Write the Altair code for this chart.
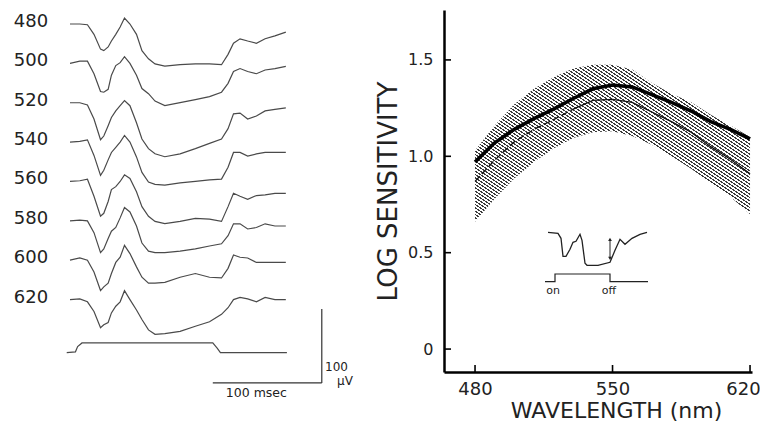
import math
import altair as alt
import pandas as pd

# ---------------- right panel: spectral sensitivity ----------------
wavelengths = [480, 490, 500, 510, 520, 530, 540, 550, 560, 570, 580, 590, 600, 610, 620]
band_upper = [1.03, 1.16, 1.27, 1.35, 1.41, 1.455, 1.475, 1.475, 1.45, 1.38, 1.325, 1.28, 1.215, 1.16, 1.10]
band_lower = [0.66, 0.78, 0.885, 0.97, 1.04, 1.095, 1.125, 1.13, 1.105, 1.06, 1.00, 0.935, 0.86, 0.79, 0.70]
sens_thick = [0.97, 1.07, 1.14, 1.195, 1.245, 1.30, 1.35, 1.37, 1.36, 1.32, 1.28, 1.235, 1.18, 1.14, 1.09]
sens_thin = [0.87, 0.98, 1.075, 1.14, 1.19, 1.245, 1.29, 1.295, 1.28, 1.23, 1.18, 1.125, 1.05, 0.985, 0.91]
thin_dash_end = 530
y_tick_values = [0, 0.5, 1.0, 1.5]
x_tick_values = [480, 550, 620]

# ---------------- left panel: ERG traces ----------------
trace_labels = ["480", "500", "520", "540", "560", "580", "600", "620"]
trace_time_ms = [0, 9, 16, 22, 28, 31, 35, 38, 42, 46, 50, 55, 61, 66, 72, 78, 87, 101, 115, 128,
                 139, 145, 150, 156, 163, 171, 179, 188, 198]
trace_480 = [0, 0, -1, -14, -34, -36, -31, -23, -14, -4, 8, 0, -14, -36, -47, -54, -57, -55, -54, -54, -55, -41, -26, -20, -23, -26, -20, -16, -11]
trace_500 = [0, 3, 3, -14, -38, -39, -35, -16, -3, 1, 9, 0, -16, -34, -41, -51, -57, -53, -49, -45, -39, -27, -11, -7, -11, -14, -9, -7, -4]
trace_520 = [0, 0, -3, -22, -50, -45, -31, -20, -11, -4, 3, -4, -27, -49, -62, -69, -73, -69, -62, -55, -49, -35, -15, -14, -22, -18, -11, -9, -7]
trace_540 = [0, 1, 3, -18, -45, -38, -24, -14, -7, 0, 9, 0, -20, -41, -54, -57, -58, -55, -53, -51, -50, -34, -14, -14, -19, -16, -14, -14, -14]
trace_560 = [0, 1, 3, -20, -47, -43, -27, -11, -7, 0, 9, 4, -14, -34, -47, -54, -57, -54, -50, -51, -54, -34, -16, -20, -24, -19, -18, -16, -16]
trace_580 = [0, 1, 0, -16, -43, -38, -24, -14, -9, 4, 18, 12, -7, -30, -41, -43, -43, -41, -38, -34, -31, -20, -4, -4, -11, -9, -4, -7, -7]
trace_600 = [0, 3, 0, -16, -41, -36, -31, -18, -3, 4, 20, 9, -9, -23, -31, -31, -30, -23, -18, -23, -24, -11, 7, 4, 3, -3, -3, -3, -3]
trace_620 = [0, 1, -3, -16, -38, -34, -31, -18, -9, -3, 12, 0, -14, -27, -41, -47, -46, -43, -36, -30, -20, -11, 0, 3, 1, -3, 3, 0, 0]
traces = [trace_480, trace_500, trace_520, trace_540, trace_560, trace_580, trace_600, trace_620]
trace_spacing_uv = 53.2

stim_time_ms = [-3, 5, 7, 11, 131, 135, 138, 199]
stim_uv = [0, 1, 8, 13, 13, 6, 0, 0]
stim_offset_uv = -444

scalebar_ms = [131, 231]
scalebar_uv = [-485, -385]

# ---------------- inset schematic ----------------
inset_t = [2, 12, 15, 17, 20, 24, 27, 30, 34, 36, 39, 41, 52, 64, 69, 74, 79, 86, 94, 101]
inset_a = [1, 0, -5, -23, -23, -16, -9, -8, -1, -7, -30, -32, -32, -29, -17, -6, -11, -5, -1, 1]
inset_stim_t = [-1, 9, 9, 64, 64, 102]
inset_stim_a = [-48.4, -48.4, -40.7, -40.7, -48.4, -48.4]
inset_arrow_t = 64
inset_arrow_a = [-6, -25]

FONT = "DejaVu Sans"
INK = "#222222"
W, H = 308, 362
X_DOM = [464.2, 621]
Y_DOM = [-0.119, 1.759]

# ---- right panel layers ----
df_sens = pd.DataFrame({"wl": wavelengths, "lower": band_lower, "upper": band_upper,
                        "thick": sens_thick, "thin": sens_thin})
xs = alt.Scale(domain=X_DOM, nice=False, zero=False)
ys = alt.Scale(domain=Y_DOM, nice=False, zero=False)

x_enc = alt.X("wl:Q", scale=xs, axis=alt.Axis(
    values=x_tick_values, title="WAVELENGTH (nm)", ticks=False, tickSize=0, grid=False,
    domainWidth=2.5, domainColor="black", labelFontSize=18, labelPadding=8, labelFlush=False,
    labelOffset={"condition": {"test": "datum.value == 620", "value": -7}, "value": 0},
    titleFontSize=22, titleX=172, titleY=45, titleBaseline="alphabetic"))
y_enc_axis = alt.Axis(
    values=y_tick_values, title="LOG SENSITIVITY", ticks=False, tickSize=0, grid=False,
    domainWidth=2.5, domainColor="black", labelFontSize=16, labelPadding=11,
    labelExpr="datum.value == 0 ? '0' : format(datum.value, '.1f')",
    titleFontSize=26, titlePadding=6)

# diagonal hatching: hard-stop gradient aligned to the pixel grid (lines of slope 2/3)
bw = (max(wavelengths) - min(wavelengths)) / (X_DOM[1] - X_DOM[0]) * W
bh = (max(band_upper) - min(band_lower)) / (Y_DOM[1] - Y_DOM[0]) * H
ha, hb = 2.0, 3.0
span = ha * bw + hb * bh
k = span / (ha ** 2 * bw ** 2 + hb ** 2 * bh ** 2)
period, dark_len = 10.0, 4.0
dark = "#3a3a3a"
stops = []
for i in range(int(math.ceil(span / period))):
    a = min(1.0, i * period / span)
    b = min(1.0, (i * period + dark_len) / span)
    c = min(1.0, (i + 1) * period / span)
    stops += [alt.GradientStop(color=dark, offset=round(a, 6)), alt.GradientStop(color=dark, offset=round(b, 6)),
              alt.GradientStop(color="white", offset=round(b, 6)), alt.GradientStop(color="white", offset=round(c, 6))]
hatch = alt.LinearGradient(gradient="linear", stops=stops, x1=0, y1=1, x2=ha * bw * k, y2=1 - hb * bh * k)

band = alt.Chart(df_sens).mark_area(fill=hatch, opacity=1).encode(
    x=x_enc, y=alt.Y("lower:Q", scale=ys, axis=y_enc_axis), y2="upper:Q")
thick = alt.Chart(df_sens).mark_line(color="black", strokeWidth=3.6).encode(
    x="wl:Q", y="thick:Q")
thin_solid = alt.Chart(df_sens[df_sens.wl >= thin_dash_end]).mark_line(color="#111", strokeWidth=1.3).encode(
    x="wl:Q", y="thin:Q")
thin_dash = alt.Chart(df_sens[df_sens.wl <= thin_dash_end]).mark_line(
    color="#111", strokeWidth=1.3, strokeDash=[7, 3]).encode(x="wl:Q", y="thin:Q")
yticks = alt.Chart(pd.DataFrame({"v": y_tick_values})).mark_rule(color="black", strokeWidth=1.6).encode(
    y="v:Q", x=alt.value(0), x2=alt.value(7))
xticks = alt.Chart(pd.DataFrame({"wl": x_tick_values})).mark_rule(color="black", strokeWidth=1.6).encode(
    x="wl:Q", y=alt.value(H), y2=alt.value(H - 7))
right = alt.layer(band, thick, thin_solid, thin_dash, yticks, xticks)

# ---- left panel layers ----
rows = []
for kk, (lab, vals) in enumerate(zip(trace_labels, traces)):
    for t, v in zip(trace_time_ms, vals):
        rows.append({"trace": lab, "t": t, "uv": v - kk * trace_spacing_uv})
df_tr = pd.DataFrame(rows)
df_lab = pd.DataFrame({"label": trace_labels, "t": [-20] * len(trace_labels),
                       "uv": [2.7 - kk * trace_spacing_uv for kk in range(len(trace_labels))]})
df_stim = pd.DataFrame({"t": stim_time_ms, "uv": [v + stim_offset_uv for v in stim_uv]})
df_bar = pd.DataFrame({"t": [scalebar_ms[0], scalebar_ms[1]], "t2": [scalebar_ms[1], scalebar_ms[1]],
                       "uv": [scalebar_uv[0], scalebar_uv[0]], "uv2": [scalebar_uv[0], scalebar_uv[1]]})
df_bar_txt = pd.DataFrame({"t": [171, 234, 245], "uv": [-499, -463, -483],
                           "txt": ["100 msec", "100", "\u03bcV"], "al": ["center", "left", "left"]})

lxs = alt.Scale(domain=[0, 200], range=[-374, -156], nice=False, zero=False)
lys = alt.Scale(domain=[-500, 0], range=[384, 14], nice=False, zero=False)
lx = alt.X("t:Q", scale=lxs, axis=None)
ly = alt.Y("uv:Q", scale=lys, axis=None)

tr_lines = alt.Chart(df_tr).mark_line(color="#4a4a4a", strokeWidth=1.2).encode(x=lx, y=ly, detail="trace:N")
tr_labels = alt.Chart(df_lab).mark_text(align="right", baseline="middle", fontSize=18, font=FONT,
                                         color=INK).encode(x=lx, y=ly, text="label:N")
stim = alt.Chart(df_stim).mark_line(color="#4a4a4a", strokeWidth=1.2).encode(x=lx, y=ly)
bars = alt.Chart(df_bar).mark_rule(color="#333", strokeWidth=1.2).encode(x=lx, x2="t2:Q", y=ly, y2="uv2:Q")
bar_txt_c = alt.Chart(df_bar_txt[df_bar_txt.al == "center"]).mark_text(
    align="center", baseline="middle", fontSize=12.5, font=FONT, color=INK).encode(x=lx, y=ly, text="txt:N")
bar_txt_l = alt.Chart(df_bar_txt[df_bar_txt.al == "left"]).mark_text(
    align="left", baseline="middle", fontSize=12, font=FONT, color=INK).encode(x=lx, y=ly, text="txt:N")
left = alt.layer(tr_lines, tr_labels, stim, bars, bar_txt_c, bar_txt_l)

# ---- inset ----
ixs = alt.Scale(domain=[0, 100], range=[102, 202], nice=False, zero=False)
iys = alt.Scale(domain=[-60, 0], range=[283.3, 223.3], nice=False, zero=False)
ix = alt.X("t:Q", scale=ixs, axis=None)
iy = alt.Y("a:Q", scale=iys, axis=None)
df_inset = pd.DataFrame({"t": inset_t, "a": inset_a})
df_istim = pd.DataFrame({"t": inset_stim_t, "a": inset_stim_a, "i": list(range(len(inset_stim_t)))})
df_arrow = pd.DataFrame({"t": [inset_arrow_t], "a": [inset_arrow_a[0]], "a2": [inset_arrow_a[1]]})
df_heads = pd.DataFrame({"t": [inset_arrow_t] * 2, "a": inset_arrow_a, "shape": ["triangle-up", "triangle-down"]})
df_itxt = pd.DataFrame({"t": [7, 63], "a": [-57.5, -57.5], "txt": ["on", "off"]})

inset_line = alt.Chart(df_inset).mark_line(color="#222", strokeWidth=1.3).encode(x=ix, y=iy)
inset_stim = alt.Chart(df_istim).mark_line(color="#222", strokeWidth=1.2).encode(x=ix, y=iy, order="i:Q")
arrow = alt.Chart(df_arrow).mark_rule(color="#222", strokeWidth=1).encode(x=ix, y=iy, y2="a2:Q")
heads = alt.Chart(df_heads).mark_point(filled=True, color="#222", size=14, opacity=1).encode(
    x=ix, y=iy, shape=alt.Shape("shape:N", scale=None))
inset_txt = alt.Chart(df_itxt).mark_text(fontSize=11, font=FONT, color=INK, baseline="middle").encode(
    x=ix, y=iy, text="txt:N")
inset = alt.layer(inset_line, inset_stim, arrow, heads, inset_txt)

chart = alt.layer(right, left, inset).resolve_scale(
    x="independent", y="independent", shape="independent"
).properties(
    width=W, height=H, padding={"left": 436, "top": 2, "right": 8, "bottom": 50},
    autosize=alt.AutoSizeParams(type="none")
).configure_view(stroke=None).configure_axis(
    labelFont=FONT, titleFont=FONT, labelColor=INK, titleColor=INK, titleFontWeight="normal"
)

chart.save("out.html", embed_options={"renderer": "svg", "actions": False})
